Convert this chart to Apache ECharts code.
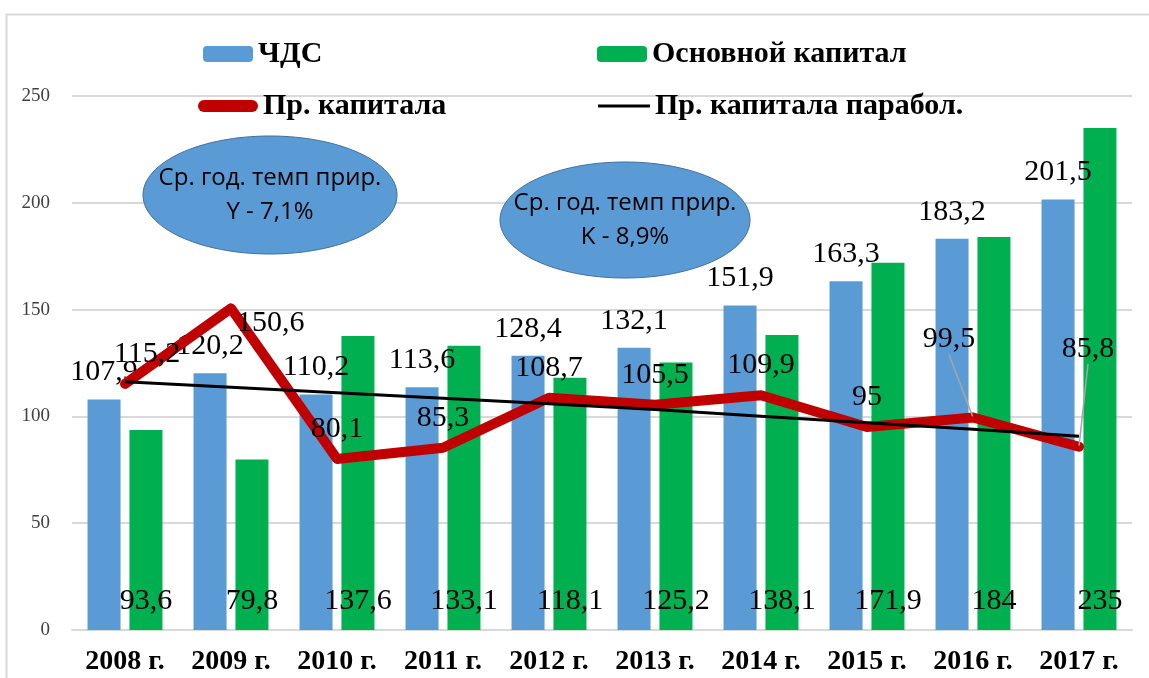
<!DOCTYPE html>
<html>
<head>
<meta charset="utf-8">
<script src="https://cdn.jsdelivr.net/npm/echarts@6/dist/echarts.min.js"></script>
<style>
  html, body { margin: 0; padding: 0; background: #fff; }
  #chart { width: 1149px; height: 678px; }
</style>
</head>
<body>
<div id="chart"></div>
<script>
// данные графика
const categories = ['2008 г.', '2009 г.', '2010 г.', '2011 г.', '2012 г.', '2013 г.', '2014 г.', '2015 г.', '2016 г.', '2017 г.']
const chdsValues = [107.9, 120.2, 110.2, 113.6, 128.4, 132.1, 151.9, 163.3, 183.2, 201.5]
const capitalValues = [93.6, 79.8, 137.6, 133.1, 118.1, 125.2, 138.1, 171.9, 184, 235]
const growthValues = [115.2, 150.6, 80.1, 85.3, 108.7, 105.5, 109.9, 95, 99.5, 85.8]
const trendValues = [116.2, 113.7, 111.1, 108.5, 105.9, 103.2, 100.1, 97.0, 94.0, 90.7]
const yTicks = [0, 50, 100, 150, 200, 250]

const serif = '"Liberation Serif", "Times New Roman", serif'
const fmt = (p) => String(p.value).replace('.', ',')

const growthData = growthValues.map((v, i) => {
  const item = { value: v }
  if (i === 1) item.label = { position: 'right', distance: 5 }
  if (i === 8 || i === 9) item.labelLine = { show: true }
  return item
})

const myChart = echarts.init(document.getElementById('chart'))
myChart.setOption({
  animation: false,
  backgroundColor: '#fff',
  grid: { left: 72, right: 17, top: 96, bottom: 48 },
  legend: [
    { data: ['ЧДС'], left: 203, top: 39, padding: 0, itemWidth: 50, itemHeight: 16,
      textStyle: { fontFamily: serif, fontWeight: 'bold', fontSize: 30, color: '#000' } },
    { data: ['Основной капитал'], left: 597, top: 39, padding: 0, itemWidth: 50, itemHeight: 16,
      textStyle: { fontFamily: serif, fontWeight: 'bold', fontSize: 30, color: '#000' } },
    { data: [{ name: 'Пр. капитала', icon: 'path://M6,0 H54 A6,6 0 0 1 54,12 H6 A6,6 0 0 1 6,0 Z' }],
      left: 198, top: 91, padding: 0, itemWidth: 60, itemHeight: 12,
      textStyle: { fontFamily: serif, fontWeight: 'bold', fontSize: 30, color: '#000' } },
    { data: [{ name: 'Пр. капитала парабол.', icon: 'rect' }], left: 598, top: 91, padding: 0,
      itemWidth: 52, itemHeight: 3,
      textStyle: { fontFamily: serif, fontWeight: 'bold', fontSize: 30, color: '#000' } }
  ],
  xAxis: {
    type: 'category',
    data: categories,
    axisTick: { show: false },
    axisLine: { lineStyle: { color: '#d9d9d9', width: 2 } },
    axisLabel: { fontFamily: serif, fontWeight: 'bold', fontSize: 28, color: '#000', margin: 18 }
  },
  yAxis: {
    type: 'value',
    min: yTicks[0],
    max: yTicks[yTicks.length - 1],
    interval: 50,
    axisLine: { show: false },
    axisTick: { show: false },
    splitLine: { lineStyle: { color: '#d9d9d9', width: 2 } },
    axisLabel: { fontFamily: serif, fontSize: 19, color: '#404040', margin: 22 }
  },
  series: [
    {
      name: 'ЧДС',
      type: 'bar',
      data: chdsValues,
      barWidth: 33,
      barGap: '27%',
      itemStyle: { color: '#5b9bd5' },
      label: { show: true, position: 'top', distance: 12, formatter: fmt,
        fontFamily: serif, fontSize: 30, color: '#000' }
    },
    {
      name: 'Основной капитал',
      type: 'bar',
      data: capitalValues,
      barWidth: 33,
      itemStyle: { color: '#00b050' },
      label: { show: true, position: 'insideBottom', distance: 14, formatter: fmt,
        fontFamily: serif, fontSize: 30, color: '#000' }
    },
    {
      name: 'Пр. капитала',
      type: 'line',
      data: growthData,
      symbol: 'circle',
      symbolSize: 2,
      showSymbol: true,
      itemStyle: { color: '#c00000' },
      lineStyle: { color: '#c00000', width: 10, cap: 'round', join: 'round' },
      label: { show: true, position: 'top', distance: 14, formatter: fmt,
        fontFamily: serif, fontSize: 30, color: '#000' },
      labelLine: { lineStyle: { color: '#a6a6a6', width: 1.5 } },
      labelLayout: function (p) {
        if (p.dataIndex === 0) return { dx: 22, dy: 0 }
        if (p.dataIndex === 1) return { dx: 0, dy: 15 }
        if (p.dataIndex === 8) return { dx: -24, dy: -48 }
        if (p.dataIndex === 9) return { dx: 9, dy: -68 }
        return {}
      },
      z: 3
    },
    {
      name: 'Пр. капитала парабол.',
      type: 'line',
      data: trendValues,
      symbol: 'none',
      itemStyle: { color: '#000' },
      lineStyle: { color: '#000', width: 3 },
      z: 4
    }
  ],
  graphic: [
    { type: 'rect', z: 0, silent: true, shape: { x: 6.5, y: 14.5, width: 1300, height: 800 },
      style: { fill: 'none', stroke: '#d9d9d9', lineWidth: 2 } },
    { type: 'ellipse', z: 100, shape: { cx: 270, cy: 195, rx: 127, ry: 59 },
      style: { fill: '#5b9bd5', stroke: '#41719c', lineWidth: 1 } },
    { type: 'text', z: 101, x: 270, y: 161,
      style: { text: 'Ср. год. темп прир.\nY - 7,1%', textAlign: 'center', fill: '#000',
        font: '24px "Open Sans", "Noto Sans", sans-serif', lineHeight: 34 } },
    { type: 'ellipse', z: 100, shape: { cx: 625, cy: 220, rx: 125, ry: 58 },
      style: { fill: '#5b9bd5', stroke: '#41719c', lineWidth: 1 } },
    { type: 'text', z: 101, x: 625, y: 186,
      style: { text: 'Ср. год. темп прир.\nK - 8,9%', textAlign: 'center', fill: '#000',
        font: '24px "Open Sans", "Noto Sans", sans-serif', lineHeight: 34 } }
  ]
})
</script>
</body>
</html>
